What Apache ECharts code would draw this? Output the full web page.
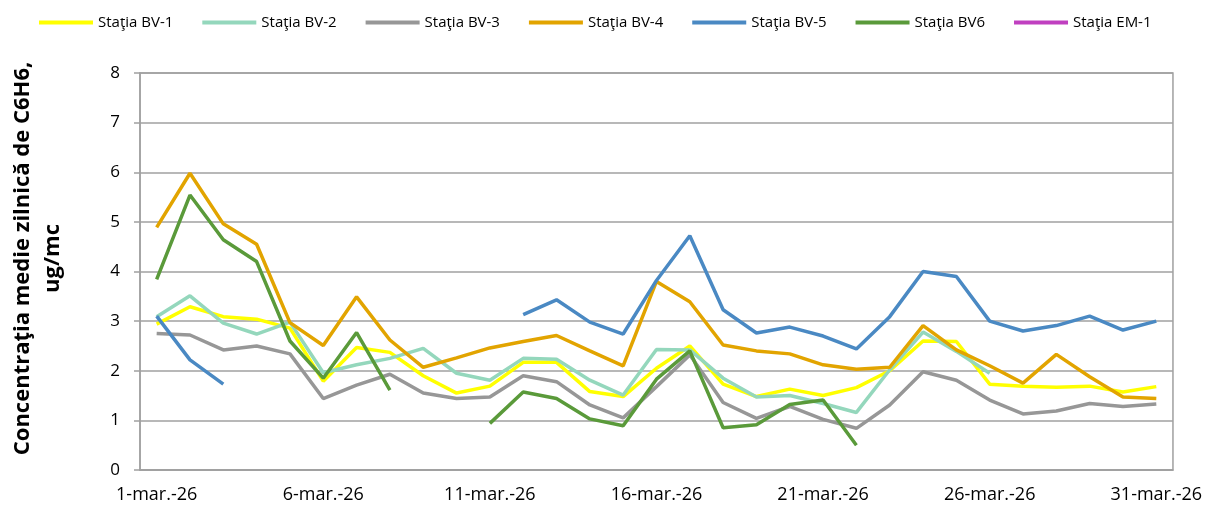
<!DOCTYPE html>
<html>
<head>
<meta charset="utf-8">
<script src="https://cdn.jsdelivr.net/npm/echarts@6/dist/echarts.min.js"></script>
<style>
  html, body { margin: 0; padding: 0; background: #fff; }
  #chart { width: 1205px; height: 506px; }
</style>
</head>
<body>
<div id="chart"></div>
<script>
// zilele lunii martie 2026
var days = [
  '1-mar.-26','2-mar.-26','3-mar.-26','4-mar.-26','5-mar.-26','6-mar.-26','7-mar.-26','8-mar.-26',
  '9-mar.-26','10-mar.-26','11-mar.-26','12-mar.-26','13-mar.-26','14-mar.-26','15-mar.-26','16-mar.-26',
  '17-mar.-26','18-mar.-26','19-mar.-26','20-mar.-26','21-mar.-26','22-mar.-26','23-mar.-26','24-mar.-26',
  '25-mar.-26','26-mar.-26','27-mar.-26','28-mar.-26','29-mar.-26','30-mar.-26','31-mar.-26'
];

// concentratii medii zilnice C6H6 (ug/mc), null = lipsa date
var bv1 = [2.94,3.29,3.09,3.04,2.86,1.79,2.47,2.37,1.90,1.55,1.69,2.17,2.17,1.58,1.48,2.05,
           2.50,1.73,1.48,1.63,1.50,1.66,2.00,2.60,2.59,1.73,1.69,1.67,1.69,1.57,1.68];
var bv2 = [3.09,3.51,2.96,2.74,2.98,1.96,2.12,2.25,2.45,1.95,1.81,2.25,2.23,1.81,1.51,2.43,
           2.42,1.85,1.47,1.50,1.34,1.16,2.02,2.78,2.39,1.95,null,null,null,null,null];
var bv3 = [2.75,2.72,2.42,2.50,2.34,1.44,1.71,1.93,1.55,1.44,1.47,1.90,1.78,1.31,1.05,1.68,
           2.32,1.36,1.04,1.28,1.02,0.84,1.31,1.98,1.81,1.41,1.13,1.19,1.34,1.28,1.33];
var bv4 = [4.89,5.98,4.96,4.55,2.97,2.51,3.49,2.62,2.07,2.26,2.46,2.59,2.71,2.40,2.10,3.80,
           3.39,2.52,2.40,2.34,2.12,2.03,2.07,2.91,2.42,2.10,1.75,2.33,1.88,1.47,1.44];
var bv5 = [3.10,2.22,1.73,null,null,null,null,null,null,null,null,3.13,3.43,2.98,2.74,3.82,
           4.72,3.23,2.76,2.88,2.70,2.44,3.09,4.00,3.90,3.00,2.80,2.91,3.10,2.82,3.00];
var bv6 = [3.84,5.54,4.64,4.20,2.60,1.85,2.77,1.61,null,null,0.94,1.57,1.44,1.03,0.89,1.83,
           2.40,0.85,0.91,1.32,1.41,0.50,null,null,null,null,null,null,null,null,null];
var em1 = [];

var yTicks = [0, 1, 2, 3, 4, 5, 6, 7, 8];

var chart = echarts.init(document.getElementById('chart'));

function line(name, data, color) {
  return {
    name: name,
    type: 'line',
    data: data,
    symbol: 'none',
    connectNulls: false,
    lineStyle: { width: 3.5, color: color },
    itemStyle: { color: color },
    emphasis: { disabled: true }
  };
}

chart.setOption({
  animation: false,
  textStyle: { fontFamily: 'Open Sans' },
  color: ['#FFFF00', '#94D7BC', '#979797', '#E2A400', '#4A89C3', '#5A9A3A', '#C040C0'],
  legend: {
    left: 34,
    top: 10,
    icon: 'rect',
    itemWidth: 54,
    itemHeight: 4,
    itemGap: 29,
    textStyle: { fontSize: 15, color: '#000' }
  },
  grid: {
    left: 140,
    right: 29,
    top: 73,
    bottom: 36,
    show: true,
    borderColor: '#A0A0A0',
    borderWidth: 1.5
  },
  xAxis: {
    type: 'category',
    data: days,
    boundaryGap: true,
    axisLine: { lineStyle: { color: '#A0A0A0', width: 1.5 } },
    axisTick: { interval: 4, length: 6, lineStyle: { color: '#A0A0A0', width: 1.5 } },
    axisLabel: { interval: 4, margin: 16, fontSize: 18, color: '#000' }
  },
  yAxis: {
    type: 'value',
    min: yTicks[0],
    max: yTicks[yTicks.length - 1],
    interval: 1,
    name: 'Concentraţia medie zilnică de C6H6,\nug/mc',
    nameLocation: 'middle',
    nameRotate: 90,
    nameGap: 72,
    nameTextStyle: {
      fontSize: 22, fontWeight: 'bold', color: '#000', lineHeight: 30,
      padding: [0, 0, 0, 26]
    },
    axisLine: { show: true, lineStyle: { color: '#A0A0A0', width: 1.5 } },
    axisTick: { show: true, length: 6, lineStyle: { color: '#A0A0A0', width: 1.5 } },
    axisLabel: { margin: 20, fontSize: 17, color: '#000' },
    splitLine: { lineStyle: { color: '#A0A0A0', width: 1.5 } }
  },
  series: [
    line('Staţia BV-1', bv1, '#FFFF00'),
    line('Staţia BV-2', bv2, '#94D7BC'),
    line('Staţia BV-3', bv3, '#979797'),
    line('Staţia BV-4', bv4, '#E2A400'),
    line('Staţia BV-5', bv5, '#4A89C3'),
    line('Staţia BV6', bv6, '#5A9A3A'),
    line('Staţia EM-1', em1, '#C040C0')
  ]
});
</script>
</body>
</html>
